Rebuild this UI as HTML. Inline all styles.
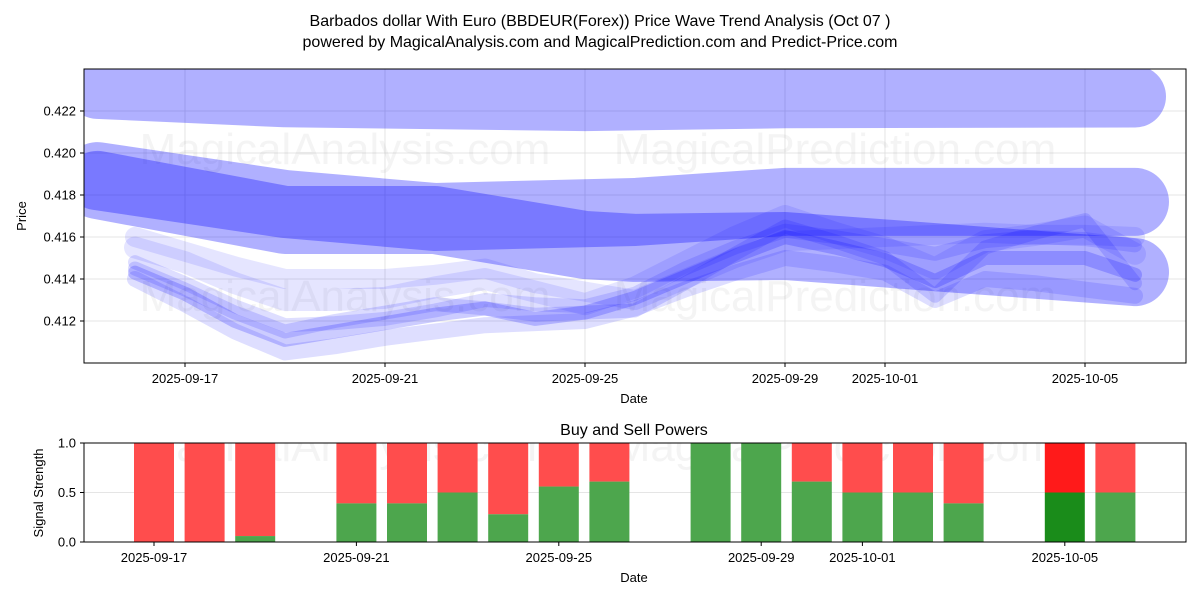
<!DOCTYPE html>
<html><head><meta charset="utf-8"><style>
body{margin:0;background:#fff}
svg text{font-family:"Liberation Sans","DejaVu Sans",sans-serif;fill:#000}
</style></head><body>
<svg id="c" width="1200" height="600" viewBox="0 0 1200 600" xmlns="http://www.w3.org/2000/svg">
<text x="600" y="26" font-size="16" text-anchor="middle">Barbados dollar With Euro (BBDEUR(Forex)) Price Wave Trend Analysis (Oct 07 )</text>
<text x="600" y="47" font-size="16" text-anchor="middle">powered by MagicalAnalysis.com and MagicalPrediction.com and Predict-Price.com</text>
<defs>
<clipPath id="topclip"><rect x="84" y="69" width="1102" height="294"/></clipPath>
<clipPath id="botclip"><rect x="84" y="443" width="1102" height="99"/></clipPath>
</defs>
<g id="topPanel"></g>
<g id="botPanel"></g>
</svg>
<script>
// ---- price chart data ----
const bandTopDates = ['2025-09-15T06:00','2025-09-19','2025-09-25','2025-09-29','2025-10-06'];
const bandTop = [0.4231,0.4227,0.42252,0.42265,0.42269];
const bandMidDates = ['2025-09-15T06:00','2025-09-19','2025-09-22','2025-09-26','2025-09-29','2025-10-06'];
const bandMid = [0.4189,0.41757,0.41695,0.41719,0.41767,0.41767];
const bandLowDates = ['2025-09-15T06:00','2025-09-19','2025-09-22','2025-09-25','2025-09-26','2025-09-29','2025-10-06'];
const bandLow = [0.41848,0.41681,0.41681,0.41562,0.41548,0.41557,0.41433];
const waveDates = ['2025-09-16','2025-09-17','2025-09-18','2025-09-19','2025-09-20','2025-09-21','2025-09-22','2025-09-23','2025-09-24','2025-09-25','2025-09-26','2025-09-27','2025-09-28','2025-09-29','2025-09-30','2025-10-01','2025-10-02','2025-10-03','2025-10-04','2025-10-05','2025-10-06'];
const wave1 = [0.4143,0.4133,0.4120,0.4111,0.4115,0.4119,0.4123,0.4126,0.4121,0.4124,0.4131,0.4141,0.4151,0.4160,0.4155,0.4149,0.4139,0.4150,0.4150,0.4150,0.4142];
const wave2 = [0.4155,0.4148,0.4138,0.4130,0.4130,0.4131,0.4136,0.4140,0.4134,0.4128,0.4136,0.4148,0.4160,0.4170,0.4162,0.4155,0.4145,0.4158,0.4161,0.4165,0.4152];
const wave3 = [0.4140,0.4128,0.4115,0.4105,0.4108,0.4112,0.4115,0.4118,0.4119,0.4120,0.4126,0.4135,0.4143,0.4150,0.4147,0.4143,0.4130,0.4140,0.4138,0.4135,0.4132];
const wave4 = [0.4145,0.4135,0.4124,0.4115,0.4120,0.4124,0.4128,0.4126,0.4123,0.4124,0.4125,0.4138,0.4152,0.4165,0.4158,0.4150,0.4132,0.4155,0.4162,0.4168,0.4138];
const wave5 = [0.4160,0.4153,0.4146,0.4140,0.4140,0.4140,0.4142,0.4145,0.4138,0.4134,0.4130,0.4140,0.4150,0.4158,0.4159,0.4160,0.4161,0.4162,0.4161,0.4161,0.4160];
const wave6 = [0.4148,0.4138,0.4127,0.4118,0.4119,0.4121,0.4125,0.4130,0.4128,0.4127,0.4133,0.4145,0.4155,0.4163,0.4160,0.4156,0.4152,0.4158,0.4160,0.4159,0.4156];
const yTicks = [0.412,0.414,0.416,0.418,0.420,0.422];
const xTickDates = ['2025-09-17','2025-09-21','2025-09-25','2025-09-29','2025-10-01','2025-10-05'];
// ---- signal chart data ----
const barDates = ['2025-09-17','2025-09-18','2025-09-19','2025-09-21','2025-09-22','2025-09-23','2025-09-24','2025-09-25','2025-09-26','2025-09-28','2025-09-29','2025-09-30','2025-10-01','2025-10-02','2025-10-03','2025-10-05','2025-10-06'];
const buyPower = [0,0,0.06,0.39,0.39,0.5,0.28,0.56,0.61,1,1,0.61,0.5,0.5,0.39,0.5,0.5];
const strongBar = [0,0,0,0,0,0,0,0,0,0,0,0,0,0,0,1,0];
const sigTicks = [0,0.5,1.0];

const NS='http://www.w3.org/2000/svg';
const D0=Date.UTC(2025,8,17);
function day(s){const p=s.split('T');const d=p[0].split('-');let t=Date.UTC(+d[0],+d[1]-1,+d[2]);if(p[1]){const h=p[1].split(':');t+=(+h[0])*3600000+(+h[1])*60000;}return (t-D0)/86400000;}
function xT(s){return 185+50*day(s);}
function yT(v){return 111+(0.422-v)*21000;}
function xB(s){return 154+50.6*day(s);}
function yB(v){return 542-99*v;}
function mk(tag,attrs,parent){const e=document.createElementNS(NS,tag);for(const k in attrs)e.setAttribute(k,attrs[k]);parent.appendChild(e);return e;}

const topG=document.getElementById('topPanel');
yTicks.forEach(v=>{const l=mk('line',{x1:84,x2:1186,y1:yT(v),y2:yT(v),stroke:'#ddd','stroke-width':0.8},topG);

});
xTickDates.forEach(s=>{const l=mk('line',{x1:xT(s),x2:xT(s),y1:69,y2:363,stroke:'#ddd','stroke-width':0.8},topG);

});
[[345,148,'MagicalAnalysis.com'],[835,148,'MagicalPrediction.com'],[345,295,'MagicalAnalysis.com'],[835,295,'MagicalPrediction.com']].forEach(w=>{
const t=mk('text',{x:w[0],y:w[1]+16,'font-size':44,'text-anchor':'middle',style:'fill:#888;fill-opacity:0.09'},topG);t.textContent=w[2];

});
const plot=mk('g',{'clip-path':'url(#topclip)'},topG);
function drawLine(dates,vals,w,op,name){
  const pts=dates.map((d,i)=>xT(d).toFixed(1)+','+yT(vals[i]).toFixed(1)).join(' ');
  const p=mk('polyline',{points:pts,fill:'none',stroke:'#0000ff','stroke-opacity':op,'stroke-width':w,'stroke-linejoin':'round','stroke-linecap':'round'},plot);
  
  
}
drawLine(bandTopDates,bandTop,62,0.31,'wave-band-top');
drawLine(bandMidDates,bandMid,68,0.31,'wave-band-mid');
drawLine(bandLowDates,bandLow,68,0.31,'wave-band-low');
drawLine(waveDates,wave5,20,0.1,'wave-5');
drawLine(waveDates,wave2,22,0.1,'wave-2');
drawLine(waveDates,wave6,14,0.13,'wave-6');
drawLine(waveDates,wave4,14,0.14,'wave-4');
drawLine(waveDates,wave3,16,0.13,'wave-3');
drawLine(waveDates,wave1,14,0.2,'wave-1');
const fr=mk('rect',{x:84,y:69,width:1102,height:294,fill:'none',stroke:'#000','stroke-width':1},topG);


yTicks.forEach(v=>{mk('line',{x1:80,x2:84,y1:yT(v),y2:yT(v),stroke:'#000'},topG);
const t=mk('text',{x:76,y:yT(v)+4.5,'font-size':13,'text-anchor':'end'},topG);t.textContent=v.toFixed(3);

});
xTickDates.forEach(s=>{mk('line',{x1:xT(s),x2:xT(s),y1:363,y2:367,stroke:'#000'},topG);
const t=mk('text',{x:xT(s),y:383,'font-size':13,'text-anchor':'middle'},topG);t.textContent=s;

});
let t=mk('text',{x:634,y:403,'font-size':13,'text-anchor':'middle'},topG);t.textContent='Date';


t=mk('text',{x:0,y:0,'font-size':13,'text-anchor':'middle',transform:'translate(26,216) rotate(-90)'},topG);t.textContent='Price';



const botG=document.getElementById('botPanel');
t=mk('text',{x:634,y:435,'font-size':16,'text-anchor':'middle'},botG);t.textContent='Buy and Sell Powers';


const bp=mk('g',{'clip-path':'url(#botclip)'},botG);
[[345,445,'MagicalAnalysis.com'],[835,445,'MagicalPrediction.com']].forEach(w=>{
const tt=mk('text',{x:w[0],y:w[1]+16,'font-size':44,'text-anchor':'middle',style:'fill:#888;fill-opacity:0.09'},bp);tt.textContent=w[2];

});
const gl=mk('line',{x1:84,x2:1186,y1:yB(0.5),y2:yB(0.5),stroke:'#ddd','stroke-width':0.8},bp);


barDates.forEach((d,i)=>{
  const cx=xB(d),w=40,g=buyPower[i],s=strongBar[i];
  const red=mk('rect',{x:cx-w/2,y:yB(1),width:w,height:yB(g)-yB(1),fill:s?'#ff1a1a':'#ff4d4d'},bp);
  
  
  const gr=mk('rect',{x:cx-w/2,y:yB(g),width:w,height:yB(0)-yB(g),fill:s?'#1a8c1a':'#4da64d'},bp);
  
  
});
const fr2=mk('rect',{x:84,y:443,width:1102,height:99,fill:'none',stroke:'#000','stroke-width':1},botG);


sigTicks.forEach(v=>{mk('line',{x1:80,x2:84,y1:yB(v),y2:yB(v),stroke:'#000'},botG);
const tt=mk('text',{x:76,y:yB(v)+4.5,'font-size':13,'text-anchor':'end'},botG);tt.textContent=v.toFixed(1);

});
xTickDates.forEach(s=>{mk('line',{x1:xB(s),x2:xB(s),y1:542,y2:546,stroke:'#000'},botG);
const tt=mk('text',{x:xB(s),y:562,'font-size':13,'text-anchor':'middle'},botG);tt.textContent=s;

});
t=mk('text',{x:634,y:582,'font-size':13,'text-anchor':'middle'},botG);t.textContent='Date';


t=mk('text',{x:0,y:0,'font-size':13,'text-anchor':'middle',transform:'translate(43,493) rotate(-90)'},botG);t.textContent='Signal Strength';


</script>
</body></html>
